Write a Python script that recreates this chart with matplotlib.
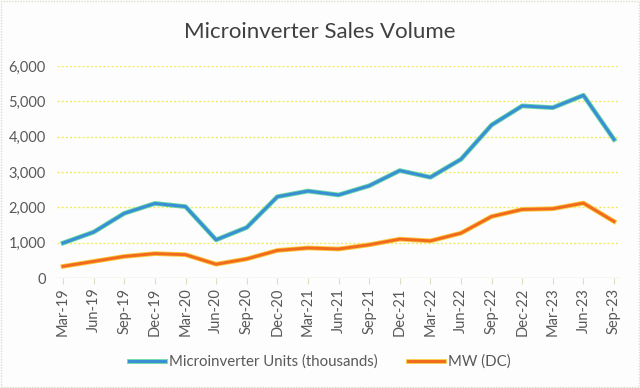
import matplotlib.pyplot as plt
import matplotlib.patheffects as pe
from matplotlib.patches import Rectangle

# quarterly sales volume
quarters = ["Mar-19", "Jun-19", "Sep-19", "Dec-19", "Mar-20", "Jun-20", "Sep-20",
            "Dec-20", "Mar-21", "Jun-21", "Sep-21", "Dec-21", "Mar-22", "Jun-22",
            "Sep-22", "Dec-22", "Mar-23", "Jun-23", "Sep-23"]
units_k = [990, 1300, 1830, 2110, 2020, 1080, 1430, 2300, 2460, 2350, 2610,
           3040, 2850, 3360, 4330, 4870, 4820, 5170, 3920]
mw_dc = [330, 470, 610, 690, 660, 390, 540, 780, 850, 820, 940, 1100, 1050,
         1270, 1740, 1940, 1960, 2120, 1600]
yticks = [0, 1000, 2000, 3000, 4000, 5000, 6000]

plt.rcParams["font.family"] = ["Lato", "DejaVu Sans"]

fig = plt.figure(figsize=(6.4, 3.88), dpi=100, facecolor="#fdfdfe")
ax = fig.add_axes([0.089, 0.2835, 0.88, 0.5465])
ax.set_facecolor("#fdfdfe")

x = list(range(len(quarters)))
l1, = ax.plot(x, units_k, color="#3a8dd6", lw=2.1, solid_joinstyle="round",
              path_effects=[pe.Stroke(linewidth=3.4, foreground="#62d6a0"), pe.Normal()],
              label="Microinverter Units (thousands)", zorder=3)
l2, = ax.plot(x, mw_dc, color="#f26a1e", lw=2.1, solid_joinstyle="round",
              path_effects=[pe.Stroke(linewidth=3.4, foreground="#f8c83a"), pe.Normal()],
              label="MW (DC)", zorder=3)

ax.set_xlim(-0.2, len(quarters) - 1 + 0.2)
ax.set_ylim(0, 6000)
ax.set_yticks(yticks)
ax.set_yticklabels([f"{v:,}" for v in yticks])
ax.set_xticks(x)
ax.set_xticklabels(quarters, rotation=90)

for v in yticks[1:]:
    ax.axhline(v, color="#f0ec5a", lw=1, ls=(0, (1.5, 1.5)), zorder=1)
ax.axhline(0, color="#dcdcc0", lw=1, zorder=1)

for s in ax.spines.values():
    s.set_visible(False)
ax.tick_params(axis="y", length=0, labelsize=10.5, labelcolor="#595959", pad=8)
ax.tick_params(axis="x", length=4, color="#dcdcc0", labelsize=10.5,
               labelcolor="#595959", pad=3)

fig.text(0.5, 0.918, "Microinverter Sales Volume", ha="center", va="center",
         fontsize=16, color="#404040")

fig.legend(handles=[l1, l2], loc="center", bbox_to_anchor=(0.5, 0.067), ncol=2,
           frameon=False, fontsize=10.8, labelcolor="#595959", handlelength=2.4,
           handletextpad=0.3, columnspacing=2.0)

fig.add_artist(Rectangle((0.002, 0.003), 0.996, 0.994, transform=fig.transFigure,
                         fill=False, ec="#dedec8", lw=1, ls=(0, (1, 1))))

fig.savefig("out.png", dpi=100, facecolor=fig.get_facecolor())
